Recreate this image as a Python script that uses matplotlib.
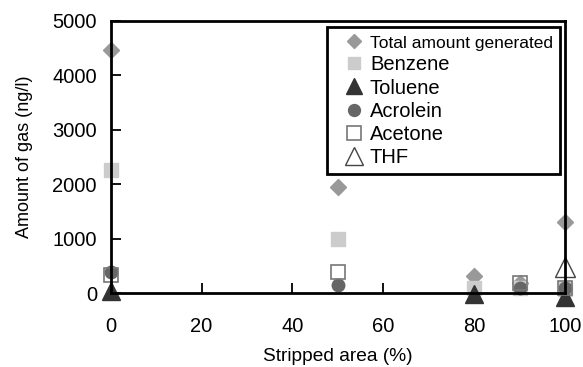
import matplotlib
matplotlib.use("Agg")
import matplotlib.pyplot as plt

plt.rcParams['font.family'] = ['Liberation Sans', 'DejaVu Sans']

total_x = [0, 50, 80, 90, 100]
total_y = [4470, 1950, 310, 185, 1310]
benzene_x = [0, 50, 80, 90, 100]
benzene_y = [2260, 1000, 90, 100, 80]
toluene_x = [0, 80, 100]
toluene_y = [40, -10, -80]
acrolein_x = [0, 50, 90, 100]
acrolein_y = [390, 150, 100, 90]
acetone_x = [0, 50, 90, 100]
acetone_y = [330, 380, 180, 90]
thf_x = [100]
thf_y = [480]

xticks = [0, 20, 40, 60, 80, 100]
yticks = [0, 1000, 2000, 3000, 4000, 5000]

fig = plt.figure(figsize=(5.83, 3.67), dpi=100)
ax = fig.add_axes([0.190, 0.2016, 0.779, 0.7414])

kw = dict(linestyle='none', clip_on=False)
ax.plot(total_x, total_y, marker='D', ms=8, color='#999999', mec='#999999', label='Total amount generated', **kw)
ax.plot(benzene_x, benzene_y, marker='s', ms=9.5, color='#cccccc', mec='#cccccc', label='Benzene', **kw)
ax.plot(toluene_x, toluene_y, marker='^', ms=12.5, color='#333333', mec='#333333', label='Toluene', **kw)
ax.plot(acrolein_x, acrolein_y, marker='o', ms=9, color='#666666', mec='#666666', label='Acrolein', **kw)
ax.plot(acetone_x, acetone_y, marker='s', ms=10, mfc='none', mec='#777777', mew=1.2, label='Acetone', **kw)
ax.plot(thf_x, thf_y, marker='^', ms=14, mfc='none', mec='#444444', mew=1.0, label='THF', **kw)

ax.set_xlim(0, 100)
ax.set_ylim(0, 5000)
ax.set_xticks(xticks)
ax.set_yticks(yticks)
ax.tick_params(direction='in', length=7, width=1.3, labelsize=14.5)
ax.tick_params(axis='y', pad=10)
ax.tick_params(axis='x', pad=17)
for s in ax.spines.values():
    s.set_linewidth(2)

ax.set_xlabel('Stripped area (%)', fontsize=13.8, labelpad=9)
ax.set_ylabel('Amount of gas (ng/l)', fontsize=13, labelpad=14)

leg = ax.legend(loc='upper right', bbox_to_anchor=(0.989, 0.978), fontsize=14.5,
                frameon=True, fancybox=False, edgecolor='black', framealpha=1,
                handletextpad=-0.2, labelspacing=0.21, borderpad=0.35, handlelength=2.0,
                borderaxespad=0, markerscale=0.95)
leg.get_frame().set_linewidth(2)
leg.get_texts()[0].set_fontsize(12.5)

fig.savefig('out.png', dpi=100)
